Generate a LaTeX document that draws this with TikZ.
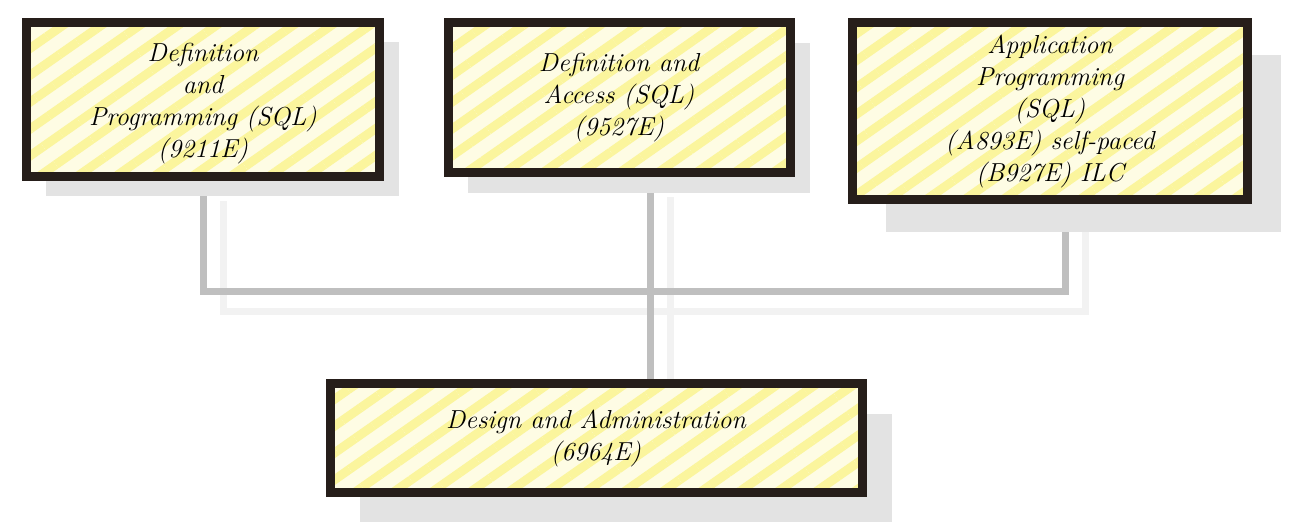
\documentclass[tikz,border=0pt]{standalone}
\usetikzlibrary{positioning,shadows,backgrounds,patterns.meta}
\definecolor{frame}{RGB}{38,30,26}
\definecolor{crayon}{RGB}{248,236,60}
\tikzset{
	course/.style={drop shadow={shadow xshift=#1, shadow yshift=-#1, fill=black!11, opacity=1},
		preaction={fill=crayon!14},
		pattern={Lines[angle=35, distance=22pt, line width=9pt]}, pattern color=crayon!50,
		draw=frame, line width=9pt, align=center,
		inner sep=0pt, font=\fontsize{26}{32}\selectfont\itshape},
	course/.default=20pt,
	wire/.style={draw=black!25, line width=7pt},
	ghost/.style={draw=black!5, line width=7pt}
}
\begin{document}
\begin{tikzpicture}[x=1pt, y=-1pt]
	\useasboundingbox (0,0) rectangle (1291,526);
	\node [course=19pt, minimum width=353pt, minimum height=154pt] (DP) at (203,100)
		{\\[-6pt]Definition\\and\\Programming (SQL)\\(9211E)};
	\node [course=20pt, minimum width=342pt, minimum height=150pt] (DA) at (619,98)
		{Definition and\\Access (SQL)\\(9527E)};
	\node [course=33pt, minimum width=395pt, minimum height=177pt] (AP) at (1050,111)
		{Application\\Programming\\(SQL)\\(A893E) self-paced\\(B927E) ILC};
	\node [course=30pt, minimum width=532pt, minimum height=108pt] (DS) at (596,438)
		{Design and Administration\\(6964E)};
	\coordinate (hub) at (650,292);
	\coordinate (rt) at (1065,292);
	% grey connectors, under the boxes
	\begin{scope}[on background layer]
		\begin{scope}[transform canvas={shift={(20pt,-20pt)}}]
			\draw [ghost] (DP.south) |- (rt) -- (rt |- AP.south);
			\draw [ghost] (DA.south -| hub) -- (DS.north -| hub);
		\end{scope}
		\draw [wire] (DP.south) |- (rt) -- (rt |- AP.south);
		\draw [wire] (DA.south -| hub) -- (DS.north -| hub);
	\end{scope}
\end{tikzpicture}
\end{document}
